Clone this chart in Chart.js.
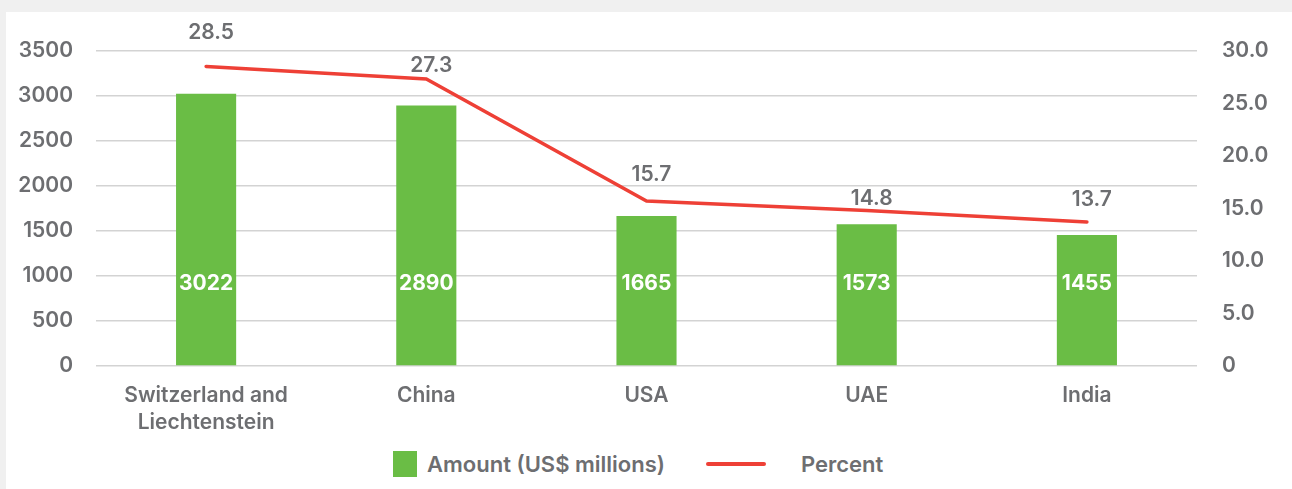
<!DOCTYPE html>
<html>
<head>
<meta charset="utf-8">
<script src="https://cdn.jsdelivr.net/npm/chart.js@4"></script>
<style>
  body { margin: 0; background: #f0f0f0; width: 1292px; height: 489px; overflow: hidden; font-family: Inter, "Open Sans", sans-serif; }
  #panel { position: absolute; left: 6px; top: 12px; width: 1286px; height: 477px; background: #fff; }
  #wrap { position: absolute; left: 0; top: 0; width: 1286px; height: 430px; }
  #legend { position: absolute; left: 387px; top: 439px; display: flex; align-items: center; color: #6d6e71; font-size: 22px; font-weight: 600; }
  .box { width: 24px; height: 26px; background: #6abd45; margin-right: 10px; }
  .ln { width: 60px; height: 4px; border-radius: 2px; background: #ee4036; margin-left: 41px; margin-right: 35px; }
</style>
</head>
<body>
<div id="panel">
  <div id="wrap"><canvas id="chart"></canvas></div>
  <div id="legend">
    <div class="box"></div><span>Amount (US$ millions)</span>
    <div class="ln"></div><span>Percent</span>
  </div>
</div>
<script>
const countries = [["Switzerland and", "Liechtenstein"], "China", "USA", "UAE", "India"];
const amounts = [3022, 2890, 1665, 1573, 1455];
const percents = [28.5, 27.3, 15.7, 14.8, 13.7];

const textGray = '#6d6e71';
const tickFont = { family: 'Inter', size: 21, weight: '600', lineHeight: 1.3 };

// etiquetas de valores (barras y línea)
const valueLabels = {
  id: 'valueLabels',
  afterDatasetsDraw(chart) {
    const ctx = chart.ctx;
    const area = chart.chartArea;
    const lift = [34, 13, 26, 12, 22];
    ctx.save();
    ctx.textAlign = 'center';
    ctx.textBaseline = 'middle';

    ctx.font = '700 21px Inter';
    ctx.fillStyle = '#ffffff';
    chart.getDatasetMeta(1).data.forEach((bar, i) => {
      ctx.fillText(String(amounts[i]), bar.x, area.bottom - 82);
    });

    ctx.font = '600 21px Inter';
    ctx.fillStyle = textGray;
    chart.getDatasetMeta(0).data.forEach((pt, i) => {
      ctx.fillText(percents[i].toFixed(1), pt.x + 5, pt.y - lift[i]);
    });
    ctx.restore();
  }
};

new Chart(document.getElementById('chart'), {
  data: {
    labels: countries,
    datasets: [{
      type: 'line',
      label: 'Percent',
      data: percents,
      yAxisID: 'y1',
      borderColor: '#ee4036',
      borderWidth: 3.5,
      borderCapStyle: 'round',
      tension: 0,
      pointRadius: 0,
      order: 0
    }, {
      type: 'bar',
      label: 'Amount (US$ millions)',
      data: amounts,
      yAxisID: 'y',
      backgroundColor: '#6abd45',
      barPercentage: 0.273,
      categoryPercentage: 1,
      order: 1
    }]
  },
  options: {
    responsive: true,
    maintainAspectRatio: false,
    animation: false,
    layout: { padding: { top: 37, left: 0, right: 0, bottom: 0 } },
    plugins: {
      legend: { display: false },
      tooltip: { enabled: false }
    },
    scales: {
      x: {
        grid: { display: false },
        border: { display: false },
        ticks: { color: textGray, font: tickFont, padding: 8, maxRotation: 0 },
        afterFit(scale) { scale.height = 76; }
      },
      y: {
        position: 'left',
        min: 0,
        max: 3500,
        ticks: { stepSize: 500, color: textGray, font: tickFont, padding: 23, callback: v => String(v) },
        grid: { color: '#d3d3d3', lineWidth: 1.5, drawTicks: false },
        border: { display: false },
        afterFit(scale) { scale.width = 90; }
      },
      y1: {
        position: 'right',
        min: 0,
        max: 30,
        ticks: {
          stepSize: 5,
          color: textGray,
          font: tickFont,
          padding: 25,
          callback: v => v === 0 ? '0' : v.toFixed(1)
        },
        grid: { drawOnChartArea: false, drawTicks: false },
        border: { display: false },
        afterFit(scale) { scale.width = 95; }
      }
    }
  },
  plugins: [valueLabels]
});
</script>
</body>
</html>
